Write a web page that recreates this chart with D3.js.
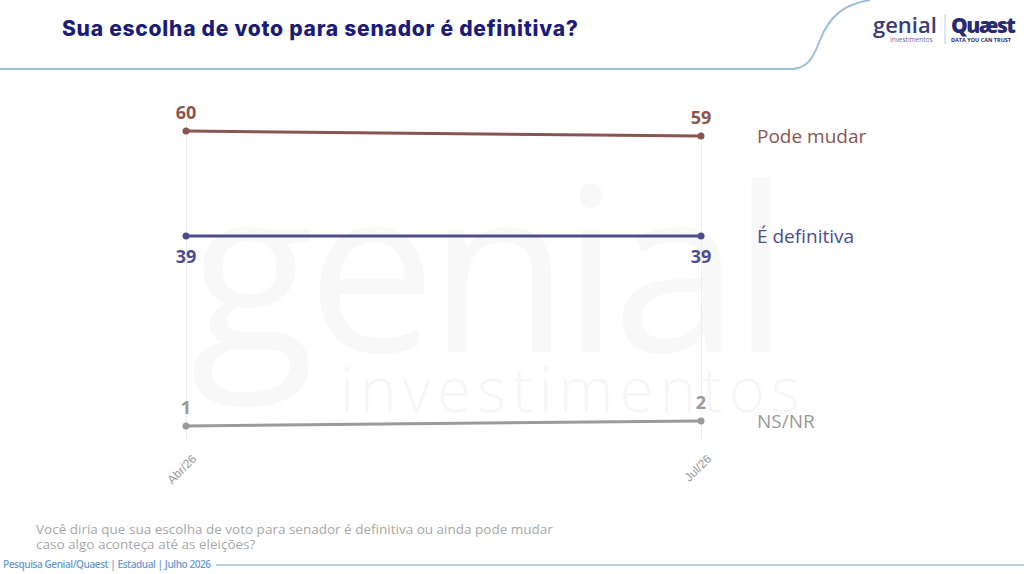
<!DOCTYPE html>
<html>
<head>
<meta charset="utf-8">
<script src="https://cdn.jsdelivr.net/npm/d3@7"></script>
<style>
  body { margin: 0; background: #fff; }
  svg { display: block; font-family: "Open Sans", "Noto Sans", sans-serif; }
</style>
</head>
<body>
<div id="chart"></div>
<script>
// survey waves
const periods = ['Abr/26', 'Jul/26'];
// answers, in drawing order
const seriesNames = ['Pode mudar', 'É definitiva', 'NS/NR'];
const podeMudar = [60, 59];
const definitiva = [39, 39];
const nsnr = [1, 2];
const seriesColors = ['#8a5550', '#4d4d8c', '#9a9a9a'];
// label above or below the point
const labelSide = ['above', 'below', 'above'];

const series = [podeMudar, definitiva, nsnr].map((vals, i) => ({
  name: seriesNames[i],
  color: seriesColors[i],
  side: labelSide[i],
  values: vals.map((v, j) => ({period: periods[j], value: v}))
}));

const W = 1024, H = 574;
const svg = d3.select('#chart').append('svg')
    .attr('width', W)
    .attr('height', H);

// faint watermark behind the chart
svg.append('text')
    .attr('x', 190).attr('y', 352)
    .attr('font-size', 230)
    .attr('font-weight', 500)
    .attr('fill', '#f8f8f8')
    .attr('textLength', 600)
    .text('genial');
svg.append('text')
    .attr('x', 340).attr('y', 412)
    .attr('font-size', 62)
    .attr('font-weight', 300)
    .attr('fill', '#f6f6f6')
    .attr('textLength', 460)
    .text('investimentos');

// header
svg.append('path')
    .attr('d', 'M0,69 L790,69 C805,69 812,62 820,40 C830,15 845,4 870,0')
    .attr('fill', 'none')
    .attr('stroke', '#9fbfd8')
    .attr('stroke-width', 2);
svg.append('text')
    .attr('x', 62).attr('y', 36)
    .attr('font-family', 'Inter, sans-serif')
    .attr('font-size', 21)
    .attr('font-weight', 800)
    .attr('fill', '#1b1b7a')
    .attr('textLength', 516)
    .text('Sua escolha de voto para senador é definitiva?');

// logos as text
svg.append('text')
    .attr('x', 873).attr('y', 33)
    .attr('font-size', 22).attr('font-weight', 600)
    .attr('fill', '#3a3a7a')
    .text('genial');
svg.append('text')
    .attr('x', 890).attr('y', 42)
    .attr('font-size', 6.5).attr('fill', '#6a6aa0')
    .text('investimentos');
svg.append('line')
    .attr('x1', 945).attr('x2', 945).attr('y1', 14).attr('y2', 44)
    .attr('stroke', '#c8c8d8');
svg.append('text')
    .attr('x', 951).attr('y', 33)
    .attr('font-size', 21).attr('font-weight', 800)
    .attr('fill', '#2a2a72')
    .attr('textLength', 65)
    .text('Quæst');
svg.append('text')
    .attr('x', 951).attr('y', 42)
    .attr('font-size', 5.5).attr('font-weight', 700)
    .attr('fill', '#2a2a72')
    .text('DATA YOU CAN TRUST');

// scales
const x = d3.scalePoint()
    .domain(periods)
    .range([186, 701]);

const y = d3.scaleLinear()
    .domain([0, 60])
    .range([431, 131]);

// x axis with faint vertical grid lines
const xAxis = d3.axisBottom(x)
    .tickSize(-(440 - 120))
    .tickPadding(8);

const xAxisG = svg.append('g')
    .attr('transform', 'translate(0,440)')
    .call(xAxis);
xAxisG.select('.domain').remove();
xAxisG.selectAll('.tick line')
    .attr('stroke', '#ececec');
xAxisG.selectAll('.tick text')
    .attr('fill', '#9a9a9a')
    .attr('font-size', 12)
    .attr('text-anchor', 'end')
    .attr('dy', null)
    .attr('transform', 'translate(5,14) rotate(-45)');

const line = d3.line()
    .x(d => x(d.period))
    .y(d => y(d.value));

const g = svg.selectAll('.series')
    .data(series)
    .join('g')
    .attr('class', 'series');

g.append('path')
    .attr('d', d => line(d.values))
    .attr('fill', 'none')
    .attr('stroke', d => d.color)
    .attr('stroke-width', 3);

g.selectAll('circle')
    .data(d => d.values.map(v => ({...v, s: d})))
    .join('circle')
    .attr('cx', d => x(d.period))
    .attr('cy', d => y(d.value))
    .attr('r', 3.5)
    .attr('fill', d => d.s.color);

g.selectAll('.val')
    .data(d => d.values.map(v => ({...v, s: d})))
    .join('text')
    .attr('class', 'val')
    .attr('x', d => x(d.period))
    .attr('y', d => y(d.value) + (d.s.side === 'above' ? -12 : 27))
    .attr('text-anchor', 'middle')
    .attr('font-size', 18)
    .attr('font-weight', 700)
    .attr('fill', d => d.s.color)
    .text(d => d.value);

// series names at the right end
g.append('text')
    .attr('x', 757)
    .attr('y', d => y(d.values[d.values.length - 1].value))
    .attr('dy', '0.35em')
    .attr('font-size', 19)
    .attr('fill', d => d.color)
    .text(d => d.name);

// footer
svg.append('text')
    .attr('x', 36).attr('y', 534)
    .attr('font-size', 13.5)
    .attr('fill', '#a8a8a8')
    .selectAll('tspan')
    .data(['Você diria que sua escolha de voto para senador é definitiva ou ainda pode mudar',
           'caso algo aconteça até as eleições?'])
    .join('tspan')
    .attr('x', 36)
    .attr('dy', (d, i) => i ? 15 : 0)
    .text(d => d);

svg.append('text')
    .attr('x', 3).attr('y', 568)
    .attr('font-size', 10)
    .attr('font-weight', 600)
    .attr('fill', '#6b9bd0')
    .attr('textLength', 208)
    .text('Pesquisa Genial/Quaest | Estadual | Julho 2026');
svg.append('line')
    .attr('x1', 216).attr('x2', W)
    .attr('y1', 565).attr('y2', 565)
    .attr('stroke', '#9fbfd8')
    .attr('stroke-width', 1.5);
</script>
</body>
</html>
